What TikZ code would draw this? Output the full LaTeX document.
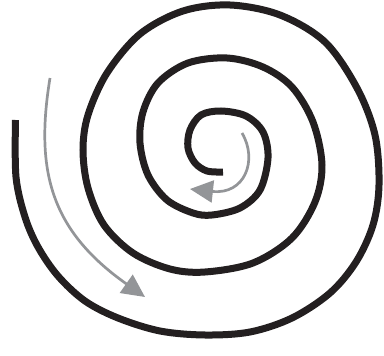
\documentclass[tikz,border=0pt]{standalone}
\usetikzlibrary{arrows.meta}
\definecolor{spiralblack}{HTML}{231F20}
\definecolor{arrowgray}{HTML}{939598}
\tikzset{
  spiral/.style={draw=spiralblack, line width=7pt},
  flowarrow/.style={draw=arrowgray, line width=2.7pt, -{Triangle[length=23pt,width=22pt]}, arrowgray},
}
\begin{document}
\begin{tikzpicture}[x=1pt,y=-1pt]
\useasboundingbox (0,0) rectangle (384,356);
\draw[spiral] plot[smooth, tension=0.55] coordinates {
  (15.5,120) (16,177) (25,217) (38,247) (58,276) (85,301) (118,318) (160,331) (205,335)
  (250,332) (292,318) (330,293) (356,262) (373,225) (379,185) (375,135) (357,88)
  (325,42) (280,15) (230,5) (183,11) (140,34) (107,73) (88,115) (83,150) (88,188)
  (104,225) (133,253) (170,269) (205,272) (253,263) (292,238) (315,202) (322,165)
  (313,122) (292,87) (263,67) (227,58) (188,63) (158,83) (143,112) (140,143) (148,175)
  (167,200) (193,213) (212,215) (240,208) (260,190) (268,158) (263,132) (246,116)
  (221,111) (201,115) (190,130) (188,148) (195,163) (207,171) (223,172)
};
\coordinate (a1s) at (50,78);
\coordinate (a1e) at (145,297);
\draw[flowarrow] (a1s) .. controls (35,170) and (50,230) .. (a1e);
\coordinate (a2s) at (242,133);
\coordinate (a2e) at (190,189);
\draw[flowarrow] (a2s) .. controls (258,160) and (245,195) .. (a2e);
\end{tikzpicture}
\end{document}
